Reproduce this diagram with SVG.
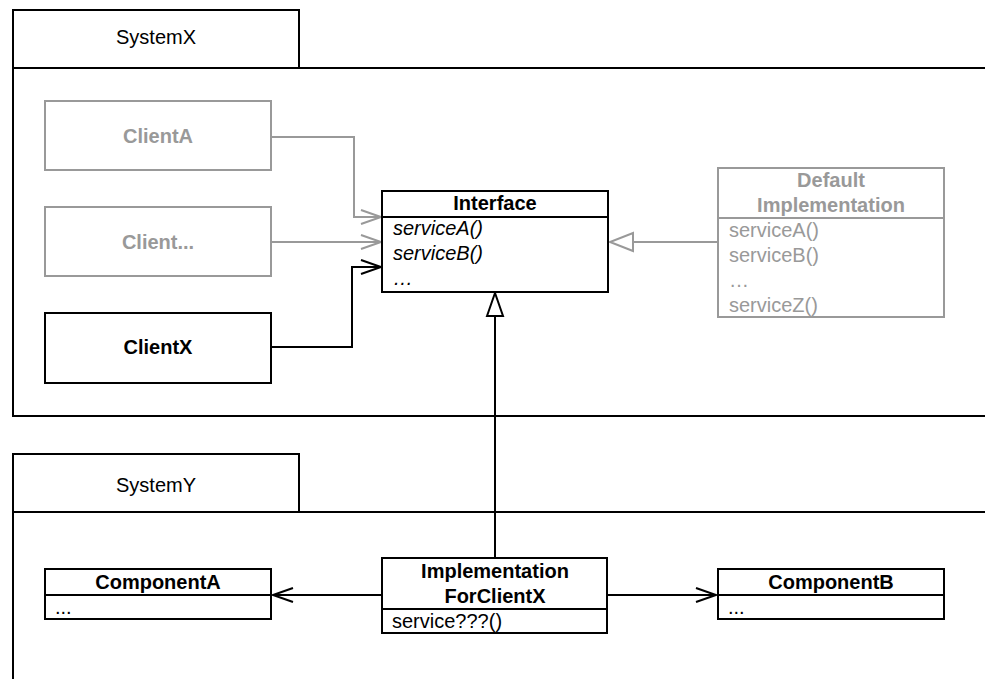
<svg xmlns="http://www.w3.org/2000/svg" width="985" height="679" viewBox="0 0 985 679">
<style>
text{font-family:"Liberation Sans",Arial,sans-serif;font-size:20px;fill:#000}
.b{font-weight:bold}
.i{font-style:italic}
.c{text-anchor:middle}
.g{fill:#999}
.box{fill:#fff;stroke:#000;stroke-width:2}
.gbox{fill:#fff;stroke:#999;stroke-width:2}
.ln{fill:none;stroke:#000;stroke-width:2}
.gln{fill:none;stroke:#999;stroke-width:2}
</style>
<defs>
<marker id="openK" markerUnits="userSpaceOnUse" markerWidth="24" markerHeight="18" viewBox="-22 -9 24 18" refX="0" refY="0" orient="auto" overflow="visible"><path d="M-20,-7 L0,0 L-20,7" fill="none" stroke="#000" stroke-width="2"/></marker>
<marker id="openG" markerUnits="userSpaceOnUse" markerWidth="24" markerHeight="18" viewBox="-22 -9 24 18" refX="0" refY="0" orient="auto" overflow="visible"><path d="M-20,-7 L0,0 L-20,7" fill="none" stroke="#999" stroke-width="2"/></marker>
<marker id="triK" markerUnits="userSpaceOnUse" markerWidth="26" markerHeight="20" viewBox="-25 -10 26 20" refX="0" refY="0" orient="auto" overflow="visible"><path d="M-23,-8 L0,0 L-23,8 Z" fill="#fff" stroke="#000" stroke-width="2"/></marker>
<marker id="triG" markerUnits="userSpaceOnUse" markerWidth="26" markerHeight="20" viewBox="-25 -10 26 20" refX="0" refY="0" orient="auto" overflow="visible"><path d="M-23,-9 L0,0 L-23,9 Z" fill="#fff" stroke="#999" stroke-width="2"/></marker>
</defs>

<g id="systemX">
<rect class="box" x="13" y="10" width="286" height="58"/>
<path class="ln" d="M986,68 H13 V416 H986"/>
<text class="c" x="156" y="44">SystemX</text>
</g>

<g id="systemY">
<rect class="box" x="13" y="454" width="286" height="58"/>
<path class="ln" d="M986,512 H13 V680"/>
<text class="c" x="156" y="492">SystemY</text>
</g>

<g id="connectors">
<path class="gln" d="M271,137 H354 V217 H381" marker-end="url(#openG)"/>
<path class="gln" d="M271,242 H381" marker-end="url(#openG)"/>
<path class="ln" d="M271,347 H352 V267 H381" marker-end="url(#openK)"/>
<path class="gln" d="M718,242 H610" marker-end="url(#triG)"/>
<path class="ln" d="M495,558 V293" marker-end="url(#triK)"/>
<path class="ln" d="M382,595 H273" marker-end="url(#openK)"/>
<path class="ln" d="M607,595 H716" marker-end="url(#openK)"/>
</g>

<g id="clientA">
<rect class="gbox" x="45" y="101" width="226" height="69"/>
<text class="b c g" x="158" y="143">ClientA</text>
</g>

<g id="clientEtc">
<rect class="gbox" x="45" y="207" width="226" height="69"/>
<text class="b c g" x="158" y="249">Client...</text>
</g>

<g id="clientX">
<rect class="box" x="45" y="313" width="226" height="70"/>
<text class="b c" x="158" y="354">ClientX</text>
</g>

<g id="interface">
<rect class="box" x="382" y="191" width="226" height="101"/>
<line class="ln" x1="382" y1="217" x2="608" y2="217"/>
<text class="b c" x="495" y="210">Interface</text>
<text class="i" x="393" y="235">serviceA()</text>
<text class="i" x="393" y="260">serviceB()</text>
<text class="i" x="393" y="285">…</text>
</g>

<g id="defaultImpl">
<rect class="gbox" x="718" y="168" width="226" height="149"/>
<line class="gln" x1="718" y1="218" x2="944" y2="218"/>
<text class="b c g" x="831" y="187">Default</text>
<text class="b c g" x="831" y="212">Implementation</text>
<text class="g" x="729" y="237">serviceA()</text>
<text class="g" x="729" y="262">serviceB()</text>
<text class="g" x="729" y="287">…</text>
<text class="g" x="729" y="312">serviceZ()</text>
</g>

<g id="componentA">
<rect class="box" x="45" y="569" width="226" height="50"/>
<line class="ln" x1="45" y1="595" x2="271" y2="595"/>
<text class="b c" x="158" y="589">ComponentA</text>
<text x="55" y="614">...</text>
</g>

<g id="implForClientX">
<rect class="box" x="382" y="558" width="225" height="75"/>
<line class="ln" x1="382" y1="609" x2="607" y2="609"/>
<text class="b c" x="495" y="578">Implementation</text>
<text class="b c" x="495" y="603">ForClientX</text>
<text x="392" y="628">service???()</text>
</g>

<g id="componentB">
<rect class="box" x="718" y="569" width="226" height="50"/>
<line class="ln" x1="718" y1="595" x2="944" y2="595"/>
<text class="b c" x="831" y="589">ComponentB</text>
<text x="728" y="614">...</text>
</g>
</svg>
